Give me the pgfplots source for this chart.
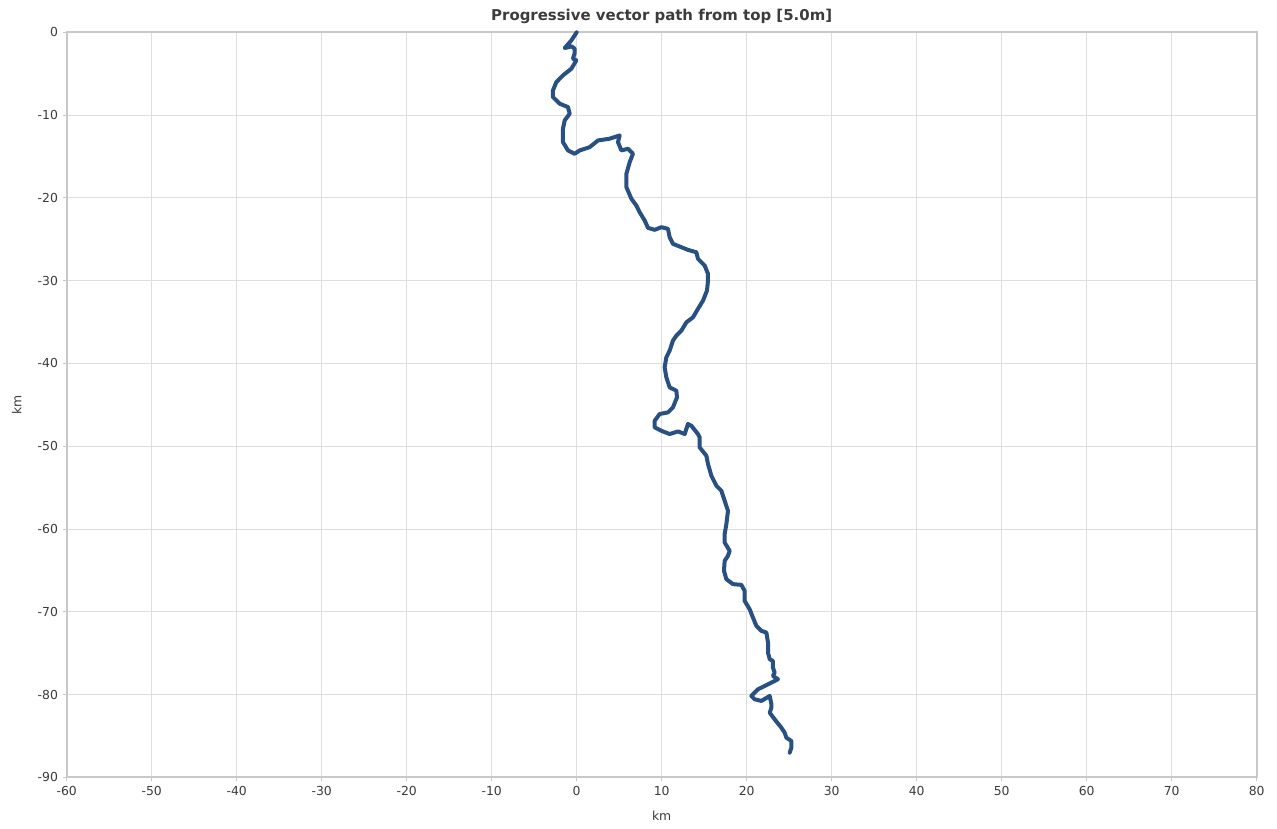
\documentclass[border=0pt]{standalone}
\usepackage{pgfplots}
\pgfplotsset{compat=1.18}
\usepackage{fontspec}
\setmainfont{DejaVu Sans}
\definecolor{pathblue}{RGB}{40,80,130}
\definecolor{axgray}{RGB}{200,200,200}
\definecolor{gridgray}{RGB}{222,222,222}
\definecolor{txtgray}{RGB}{60,60,60}
\begin{document}
\begin{tikzpicture}
\path[use as bounding box] (-50pt,-38pt) rectangle (907.75pt,583pt);
\begin{axis}[
  at={(0,0)}, anchor=south west,
  scale only axis, width=892.5pt, height=558.75pt,
  xmin=-60, xmax=80, ymin=-90, ymax=0,
  xtick={-60,-50,...,80}, ytick={-90,-80,...,0},
  grid=major, major grid style={gridgray, line width=0.6pt},
  tick pos=left, tick align=outside, major tick length=3pt,
  tick style={axgray, line width=0.6pt},
  axis line style={axgray, line width=1.6pt},
  /pgf/number format/assume math mode=true,
  ticklabel style={font=\fontsize{9.3}{10}\selectfont, text=txtgray},
  title={\textbf{Progressive vector path from top [5.0m]}},
  title style={font=\fontsize{11.2}{12}\selectfont, text=txtgray, at={(0.5,1)}, anchor=center, yshift=6pt},
  xlabel={km}, ylabel={km},
  label style={font=\fontsize{9.3}{10}\selectfont, text=txtgray},
  xlabel style={at={(0.5,0)}, anchor=center, yshift=-28.5pt},
  ylabel style={at={(-0.042,0.5)}, anchor=center},
  clip=false,
]
\addplot[pathblue, line width=3pt, line join=round, line cap=round] coordinates {
(0,0) (-0.62,-0.97) (-1.41,-1.9) (-0.6,-1.7) (-0.24,-1.97) (-0.24,-2.54)
(-0.44,-3.18) (-0.04,-3.39) (-0.62,-4.39) (-1.61,-5.2) (-2.39,-6.01)
(-2.79,-7.01) (-2.79,-7.82) (-2.0,-8.62) (-1.02,-9.03) (-0.82,-9.83)
(-1.41,-10.64) (-1.61,-11.64) (-1.61,-13.26) (-1.02,-14.27) (-0.24,-14.67)
(0.35,-14.27) (1.53,-13.87) (2.51,-13.06) (3.88,-12.85) (5.06,-12.45)
(4.86,-13.26) (5.26,-14.27) (6.04,-14.06) (6.62,-14.67) (6.24,-15.68)
(5.85,-17.09) (5.85,-18.71) (6.44,-20.11) (7.02,-20.92) (7.41,-21.73)
(8.0,-22.73) (8.39,-23.62) (9.18,-23.86) (9.96,-23.54) (10.74,-23.74)
(10.94,-24.75) (11.33,-25.55) (12.32,-25.96) (13.09,-26.28) (14.08,-26.57)
(14.27,-27.36) (15.06,-28.17) (15.45,-29.18) (15.45,-29.99) (15.33,-31.2)
(14.86,-32.41) (14.27,-33.41) (13.68,-34.43) (12.91,-35.03) (12.32,-36.03)
(11.73,-36.64) (11.33,-37.24) (10.94,-38.45) (10.55,-39.26) (10.35,-40.47)
(10.55,-41.68) (10.94,-42.89) (11.73,-43.29) (11.8,-44.1) (11.33,-45.31)
(10.74,-45.91) (9.76,-46.11) (9.18,-46.92) (9.18,-47.73) (9.96,-48.13)
(10.94,-48.53) (11.92,-48.21) (12.71,-48.53) (13.09,-47.32) (13.49,-47.52)
(14.27,-48.53) (14.47,-48.94) (14.47,-50.14) (15.26,-51.15) (15.45,-52.15)
(15.85,-53.57) (16.44,-54.78) (17.02,-55.38) (17.41,-56.59) (17.8,-57.8)
(17.61,-59.41) (17.41,-60.62) (17.41,-61.63) (18.0,-62.64) (17.8,-63.24)
(17.41,-63.84) (17.33,-65.05) (17.61,-66.06) (18.39,-66.66) (19.38,-66.75)
(19.76,-67.47) (19.76,-68.68) (20.35,-69.69) (20.74,-70.7) (21.14,-71.7)
(21.73,-72.31) (22.32,-72.51) (22.51,-73.72) (22.51,-74.93) (22.71,-75.73)
(23.09,-75.94) (23.09,-76.75) (23.29,-77.35) (23.09,-77.75) (23.68,-78.15)
(22.91,-78.56) (22.12,-78.96) (21.33,-79.36) (20.55,-80.17) (20.94,-80.57)
(21.73,-80.77) (22.71,-80.17) (22.91,-81.17) (22.91,-81.58) (22.71,-82.19)
(23.29,-82.99) (24.08,-84.0) (24.47,-84.61) (24.67,-85.21) (25.26,-85.61)
(25.26,-86.42) (25.06,-87.02)
};
\end{axis}
\end{tikzpicture}
\end{document}
